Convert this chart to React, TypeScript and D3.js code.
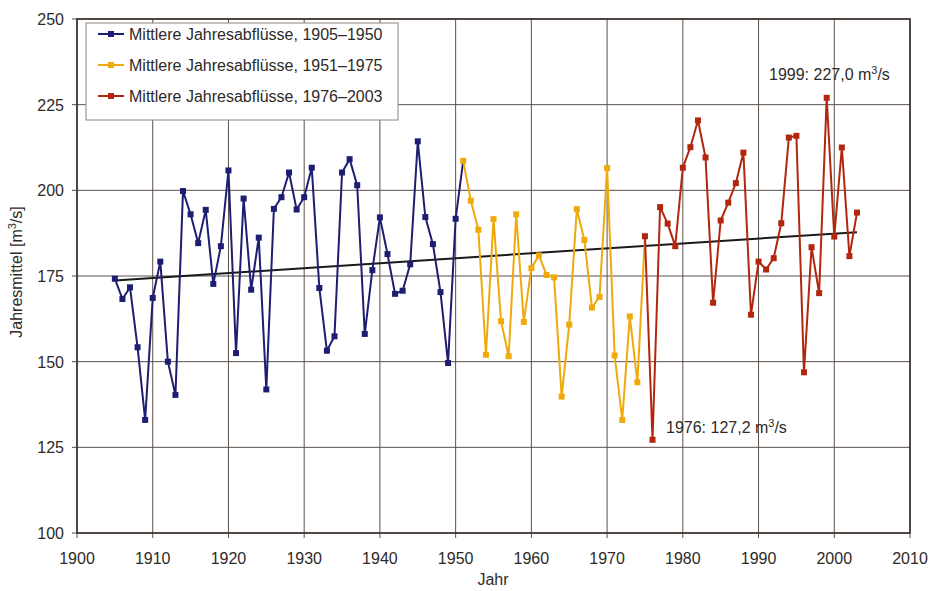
import React from "react";
import * as d3 from "d3";

const xTicks = [1900, 1910, 1920, 1930, 1940, 1950, 1960, 1970, 1980, 1990, 2000, 2010];
const yTicks = [100, 125, 150, 175, 200, 225, 250];

// 1905–1950
const blueStart = 1905;
const blueValues = [
  174.2, 168.3, 171.7, 154.2, 133.0, 168.6, 179.2, 150.0, 140.3, 199.8,
  193.0, 184.6, 194.3, 172.7, 183.7, 205.8, 152.5, 197.6, 171.0, 186.2,
  141.9, 194.6, 198.0, 205.2, 194.4, 198.0, 206.6, 171.5, 153.2, 157.4,
  205.2, 209.1, 201.5, 158.1, 176.7, 192.1, 181.4, 169.8, 170.7, 178.4,
  214.3, 192.2, 184.3, 170.3, 149.6, 191.7,
];
// 1951–1974
const orangeStart = 1951;
const orangeValues = [
  208.6, 197.0, 188.5, 152.0, 191.6, 161.8, 151.6, 193.0, 161.6, 177.3,
  181.0, 175.3, 174.6, 139.8, 160.8, 194.5, 185.5, 165.8, 168.9, 206.5,
  151.8, 133.0, 163.2, 144.0,
];
// 1975–2003
const redStart = 1975;
const redValues = [
  186.6, 127.2, 195.1, 190.3, 183.7, 206.6, 212.6, 220.4, 209.6, 167.2,
  191.2, 196.4, 202.1, 211.0, 163.7, 179.2, 176.9, 180.2, 190.4, 215.4,
  215.9, 146.9, 183.4, 170.0, 227.0, 186.5, 212.5, 180.8, 193.5,
];
const trendYears = [1905, 2003];
const trendValues = [173.7, 187.8];

const legendLabels = [
  "Mittlere Jahresabflüsse, 1905–1950",
  "Mittlere Jahresabflüsse, 1951–1975",
  "Mittlere Jahresabflüsse, 1976–2003",
];
const colors = ["#1d1d72", "#f0a90a", "#b3260e"];

type Pt = { year: number; value: number };
const toPts = (start: number, vals: number[]): Pt[] => vals.map((v, i) => ({ year: start + i, value: v }));

export default function App() {
  const W = 941;
  const H = 591;
  const left = 77, right = 910, top = 19, bottom = 533;
  const x = d3.scaleLinear().domain([1900, 2010]).range([left, right]);
  const y = d3.scaleLinear().domain([100, 250]).range([bottom, top]);

  const blue = toPts(blueStart, blueValues);
  const orange = toPts(orangeStart, orangeValues);
  const red = toPts(redStart, redValues);
  // lines connect to next series' first point
  const blueLine = [...blue, orange[0]];
  const orangeLine = [...orange, red[0]];
  const series = [
    { line: blueLine, pts: blue, color: colors[0] },
    { line: orangeLine, pts: orange, color: colors[1] },
    { line: red, pts: red, color: colors[2] },
  ];
  const lineGen = d3.line<Pt>().x((d) => x(d.year)).y((d) => y(d.value));
  const font = "'Liberation Sans', Arial, sans-serif";
  const grid = "#5b504a";
  const ms = 6;
  const fs = 16;
  const txt = "#2e2a28";

  return (
    <svg width={W} height={H} style={{ position: "absolute", left: 0, top: 0, background: "#fff" }} fontFamily={font}>
      <rect x={0} y={0} width={W} height={H} fill="#fff" />
      {/* grid */}
      {xTicks.map((t) => (
        <line key={"gx" + t} x1={x(t)} x2={x(t)} y1={top} y2={bottom + 5} stroke={grid} strokeWidth={1} />
      ))}
      {yTicks.map((t) => (
        <line key={"gy" + t} x1={left - 5} x2={right} y1={y(t)} y2={y(t)} stroke={grid} strokeWidth={1} />
      ))}
      <rect x={left} y={top} width={right - left} height={bottom - top} fill="none" stroke="#3a302c" strokeWidth={1.6} />
      {/* tick labels */}
      {xTicks.map((t) => (
        <text key={"tx" + t} x={x(t)} y={564} textAnchor="middle" fontSize={fs} fill={txt}>{t}</text>
      ))}
      {yTicks.map((t) => (
        <text key={"ty" + t} x={left - 13} y={y(t) + 6} textAnchor="end" fontSize={fs} fill={txt}>{t}</text>
      ))}
      <text x={493} y={585} textAnchor="middle" fontSize={fs} fill={txt}>Jahr</text>
      <text transform={`translate(22,${272}) rotate(-90)`} textAnchor="middle" fontSize={fs} fill={txt}>
        Jahresmittel [m<tspan dy={-6} fontSize={11}>3</tspan><tspan dy={6}>/s]</tspan>
      </text>
      {/* trend */}
      <line x1={x(trendYears[0])} y1={y(trendValues[0])} x2={x(trendYears[1])} y2={y(trendValues[1])} stroke="#1a1a1a" strokeWidth={2} />
      {/* series */}
      {series.map((s, i) => (
        <g key={"s" + i}>
          <path d={lineGen(s.line) || ""} fill="none" stroke={s.color} strokeWidth={2} />
          {s.pts.map((p) => (
            <rect key={p.year} x={x(p.year) - ms / 2} y={y(p.value) - ms / 2} width={ms} height={ms} fill={s.color} />
          ))}
        </g>
      ))}
      {/* legend */}
      <rect x={86} y={23} width={312} height={97} fill="#fff" stroke="#8a8480" strokeWidth={1} />
      {legendLabels.map((l, i) => (
        <g key={"l" + i} transform={`translate(0,${34 + i * 31})`}>
          <line x1={98} x2={124} y1={0} y2={0} stroke={colors[i]} strokeWidth={2} />
          <rect x={111 - 3} y={-3} width={6} height={6} fill={colors[i]} />
          <text x={129} y={6} fontSize={fs} fill={txt}>{l}</text>
        </g>
      ))}
      {/* annotations */}
      <text x={769} y={80} fontSize={fs} fill={txt}>
        1999: 227,0 m<tspan dy={-6} fontSize={11}>3</tspan><tspan dy={6}>/s</tspan>
      </text>
      <text x={666} y={433} fontSize={fs} fill={txt}>
        1976: 127,2 m<tspan dy={-6} fontSize={11}>3</tspan><tspan dy={6}>/s</tspan>
      </text>
    </svg>
  );
}
